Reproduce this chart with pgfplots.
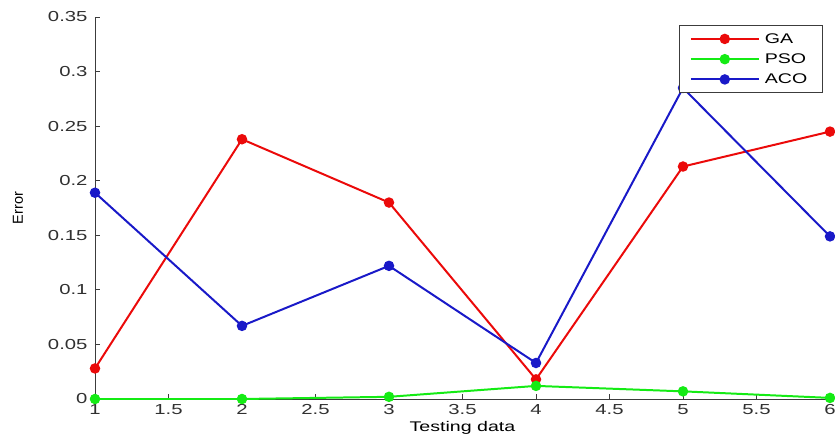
\documentclass[border=0pt]{standalone}
\usepackage{fontspec}
\setmainfont[FakeStretch=1.4]{Liberation Sans}
\newfontfamily\plainfont{Liberation Sans}
\usepackage{pgfplots}
\pgfplotsset{compat=1.18}
\definecolor{mred}{RGB}{235,10,10}
\definecolor{mgreen}{RGB}{20,235,20}
\definecolor{mblue}{RGB}{25,25,200}
\definecolor{axgray}{RGB}{60,60,60}
\begin{document}
\begin{tikzpicture}
\begin{axis}[
  name=ax,
  scale only axis,
  width=735bp, height=382bp,
  xmin=1, xmax=6, ymin=0, ymax=0.35,
  xtick={1,1.5,...,6}, ytick={0,0.05,...,0.351},
  axis x line*=bottom, axis y line*=left,
  axis line style={axgray, line width=0.9pt},
  tick align=inside,
  major tick length=5bp,
  tick style={axgray, line width=0.9pt},
  /pgf/number format/assume math mode=true,
  /pgf/number format/fixed,
  /pgf/number format/precision=2,
  ticklabel style={font=\fontsize{14.5bp}{16bp}\selectfont, text=axgray!80!black},
  xticklabel style={yshift=-2bp},
  yticklabel style={xshift=-4bp},
  xlabel={Testing data},
  ylabel={\plainfont Error},
  xlabel style={font=\fontsize{14bp}{16bp}\selectfont, at={(axis description cs:0.5,0)}, anchor=center, yshift=-29bp},
  ylabel style={font=\fontsize{14.5bp}{16bp}\selectfont, at={(axis description cs:0,0.5)}, anchor=center, yshift=77bp},
  clip=false,
  every axis plot/.append style={line width=2pt, mark=*, mark size=4.2bp},
  legend image code/.code={\draw[mark repeat=2,mark phase=2,#1, line width=2pt] plot coordinates {(0bp,0bp) (34bp,0bp) (68bp,0bp)};},
  legend style={at={(rel axis cs:0.99,0.978)}, anchor=north east,
    font=\fontsize{14bp}{16bp}\selectfont, draw=axgray, line width=0.8pt,
    row sep=5bp, inner xsep=10bp, inner ysep=5.5bp,
    nodes={inner xsep=5bp}},
  legend cell align=left,
]
\addplot[mred] coordinates {(1,0.028) (2,0.238) (3,0.180) (4,0.018) (5,0.213) (6,0.245)};
\addlegendentry{GA}
\addplot[mgreen] coordinates {(1,0.000) (2,0.000) (3,0.002) (4,0.012) (5,0.007) (6,0.001)};
\addlegendentry{PSO}
\addplot[mblue] coordinates {(1,0.189) (2,0.067) (3,0.122) (4,0.033) (5,0.285) (6,0.149)};
\addlegendentry{ACO}
\end{axis}
\pgfresetboundingbox
\path[use as bounding box] ([xshift=-95bp,yshift=-38bp]ax.south west) rectangle ([xshift=5bp,yshift=17bp]ax.north east);
\end{tikzpicture}
\end{document}
